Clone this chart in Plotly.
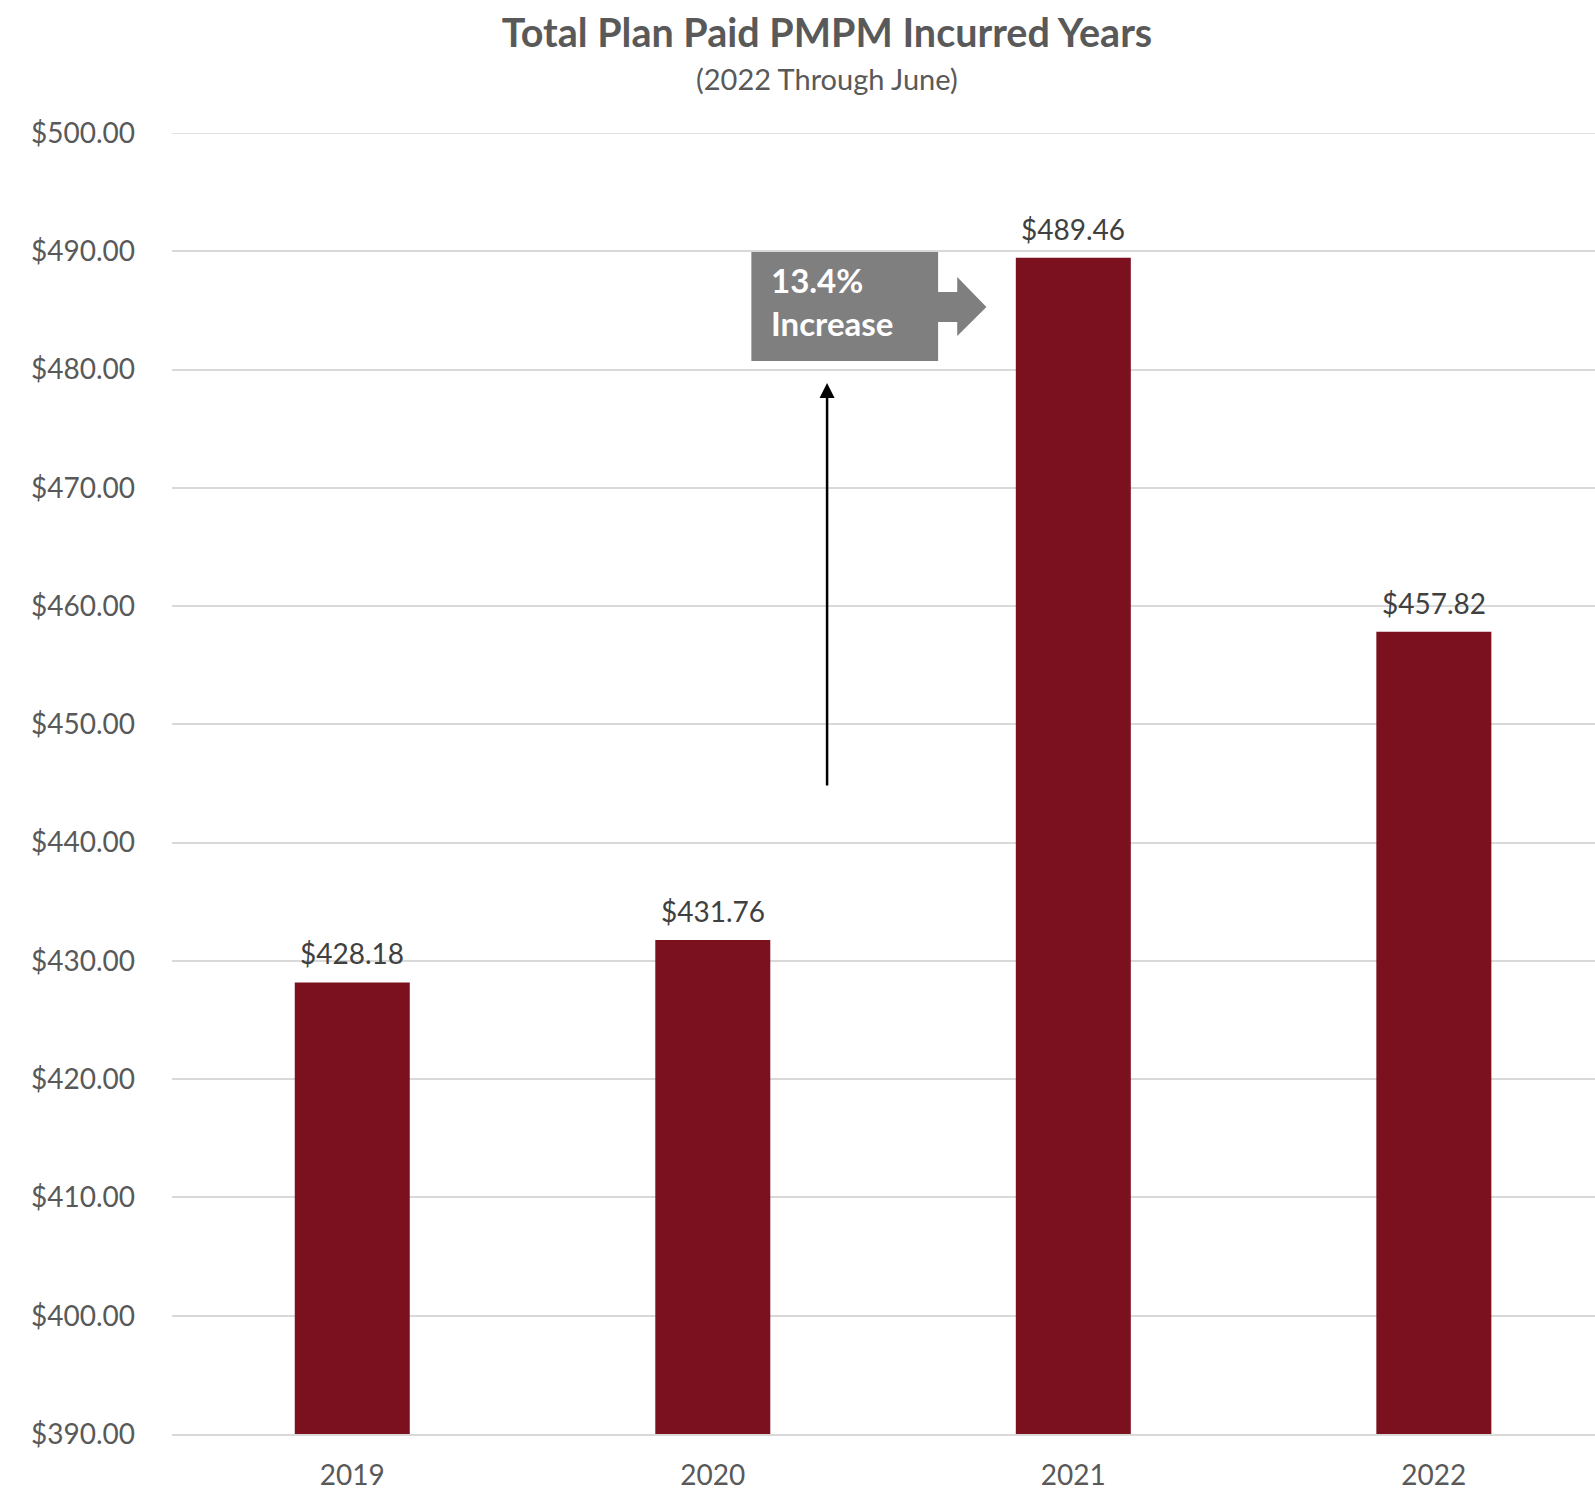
import plotly.graph_objects as go

# Total plan paid PMPM by incurred year
years = ["2019", "2020", "2021", "2022"]
pmpm = [428.18, 431.76, 489.46, 457.82]
y_ticks = [390, 400, 410, 420, 430, 440, 450, 460, 470, 480, 490, 500]
y_tick_text = [f"${v:.2f}" for v in y_ticks]

BAR_COLOR = "#7B111E"
GRID = "#D9D9D9"
TICK_COLOR = "#595959"
LABEL_COLOR = "#404040"
CALLOUT = "#7F7F7F"
FONT = "Lato"

xpos = list(range(len(years)))

fig = go.Figure()
fig.add_trace(go.Bar(
    x=xpos,
    y=pmpm,
    width=0.319,
    marker=dict(color=BAR_COLOR, line=dict(width=0)),
    hoverinfo="skip",
))

# Value labels above each bar
for xi, v in zip(xpos, pmpm):
    fig.add_annotation(
        x=xi, y=v, xref="x", yref="y",
        text=f"${v:.2f}", showarrow=False,
        yanchor="bottom", yshift=10,
        font=dict(family=FONT, size=28, color=LABEL_COLOR),
    )

# Top gridline at the upper end of the value axis
fig.add_shape(type="line", xref="paper", yref="y", x0=0, x1=1,
              y0=y_ticks[-1], y1=y_ticks[-1],
              line=dict(color=GRID, width=1.5), layer="below")

# Callout: grey box with right-pointing arrow toward the 2021 bar
callout_path = (
    "M 1.107 489.94 L 1.625 489.94 L 1.625 486.56 L 1.678 486.56 "
    "L 1.678 487.83 L 1.759 485.29 L 1.678 482.84 L 1.678 484.02 "
    "L 1.625 484.02 L 1.625 480.73 L 1.107 480.73 Z"
)
fig.add_shape(type="path", path=callout_path, xref="x", yref="y",
              fillcolor=CALLOUT, line=dict(width=0), layer="above")

fig.add_annotation(x=1.157, y=487.6, xref="x", yref="y", text="<b>13.4%</b>",
                   showarrow=False, xanchor="left", yanchor="middle",
                   font=dict(family=FONT, size=33, color="white"))
fig.add_annotation(x=1.157, y=483.9, xref="x", yref="y", text="<b>Increase</b>",
                   showarrow=False, xanchor="left", yanchor="middle",
                   font=dict(family=FONT, size=33, color="white"))

# Upward arrow between 2020 and 2021
fig.add_annotation(
    x=1.317, y=478.87, ax=1.317, ay=444.7,
    xref="x", yref="y", axref="x", ayref="y",
    text="", showarrow=True, arrowhead=2, arrowsize=1.2,
    arrowwidth=2.5, arrowcolor="black",
)

fig.update_layout(
    width=1595, height=1488,
    margin=dict(l=172, r=0, t=133, b=54, autoexpand=False),
    paper_bgcolor="white", plot_bgcolor="white",
    showlegend=False,
    title=dict(
        text="<b>Total Plan Paid PMPM Incurred Years</b>",
        x=827 / 1595, xanchor="center", y=1 - 33 / 1488, yanchor="middle",
        font=dict(family=FONT, size=39.5, color=TICK_COLOR),
    ),
    font=dict(family=FONT, color=TICK_COLOR),
)

# Subtitle, positioned in paper units above the plot area
fig.add_annotation(
    x=(827 - 172) / 1423, y=1 + (133 - 78) / 1301, xref="paper", yref="paper",
    text="(2022 Through June)", showarrow=False,
    xanchor="center", yanchor="middle",
    font=dict(family=FONT, size=29, color=TICK_COLOR),
)

fig.update_xaxes(
    range=[-0.5, 3.447], automargin=False,
    tickmode="array", tickvals=xpos, ticktext=years,
    showgrid=False, zeroline=False,
    showline=True, linecolor=GRID, linewidth=1.5,
    ticks="", ticklabelstandoff=16,
    tickfont=dict(family=FONT, size=28, color=TICK_COLOR),
)
fig.update_yaxes(
    range=[390, 500], automargin=False,
    tickmode="array", tickvals=y_ticks, ticktext=y_tick_text,
    showgrid=True, gridcolor=GRID, gridwidth=1.5,
    zeroline=False, showline=False, ticks="",
    ticklabelstandoff=36,
    tickfont=dict(family=FONT, size=28, color=TICK_COLOR),
)

fig.write_html("out.html")
